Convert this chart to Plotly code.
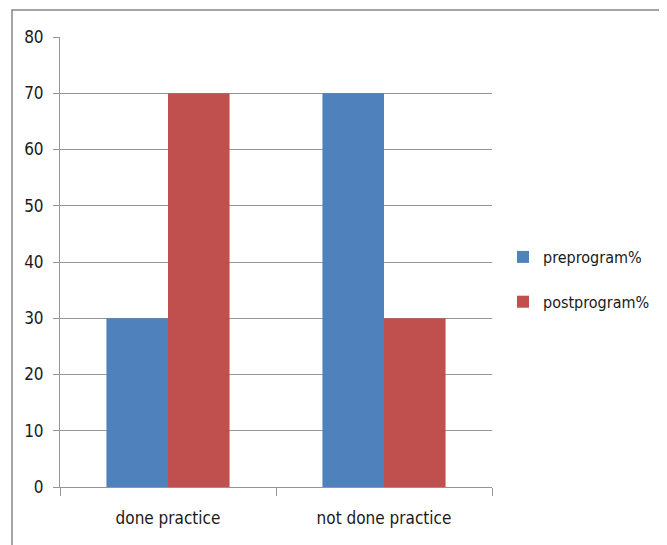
import plotly.graph_objects as go

categories = ["done practice", "not done practice"]
preprogram = [30, 70]
postprogram = [70, 30]
series_names = ["preprogram%", "postprogram%"]
y_ticks = [0, 10, 20, 30, 40, 50, 60, 70, 80]

FONT = "DejaVu Sans Condensed, Liberation Sans Narrow, sans-serif"
GRID = "#959595"
TXT = "#1a1a1a"
FS = 17

fig = go.Figure()
fig.add_trace(go.Bar(x=categories, y=preprogram, name=series_names[0],
                     marker=dict(color="#4F81BD", line=dict(width=0)),
                     legendgroup="a"))
fig.add_trace(go.Bar(x=categories, y=postprogram, name=series_names[1],
                     marker=dict(color="#C0504D", line=dict(width=0)),
                     legendgroup="b"))

# page has an 8px body margin; figure coordinates = page coordinates - 8
OFF = 8
W, H = 667 - OFF, 545 - OFF
L, T = 60 - OFF, 37 - OFF
R = W - (492 - OFF)
B = H - (487 - OFF)
pw, ph = W - L - R, H - T - B

def px_x(x):
    return (x - OFF - L) / pw

def px_y(y):
    return (H - B - (y - OFF)) / ph

fig.update_layout(
    width=W, height=H,
    margin=dict(l=L, r=R, t=T, b=B),
    paper_bgcolor="white", plot_bgcolor="white",
    barmode="group", bargap=0.43, bargroupgap=0,
    font=dict(family=FONT, size=FS, color=TXT),
    showlegend=True,
    legend=dict(x=px_x(503), y=px_y(240), xanchor="left", yanchor="top",
                font=dict(family=FONT, size=16, color=TXT),
                tracegroupgap=21, traceorder="grouped",
                bgcolor="rgba(0,0,0,0)", itemwidth=30),
    xaxis=dict(showline=True, linecolor=GRID, linewidth=1,
               ticks="outside", ticklen=8, tickcolor=GRID,
               tickson="boundaries", showgrid=False, ticklabelstandoff=16,
               tickfont=dict(family=FONT, size=FS, color=TXT)),
    yaxis=dict(range=[0, 80], tickvals=y_ticks, showline=True, linecolor=GRID,
               linewidth=1, ticks="outside", ticklen=6, tickcolor=GRID,
               showgrid=True, gridcolor=GRID, gridwidth=1, zeroline=False,
               ticklabelstandoff=6,
               tickfont=dict(family=FONT, size=FS, color=TXT)),
    hovermode=False,
)

# outer chart border (left, top, right; bottom runs off the picture)
bx0, bx1 = px_x(12), px_x(662)
by0, by1 = px_y(560), px_y(10)
fig.add_shape(type="path", xref="paper", yref="paper",
              path=f"M {bx0},{by0} L {bx0},{by1} L {bx1},{by1} L {bx1},{by0}",
              line=dict(color="#868686", width=1.5), layer="above")

fig.write_html("out.html")
